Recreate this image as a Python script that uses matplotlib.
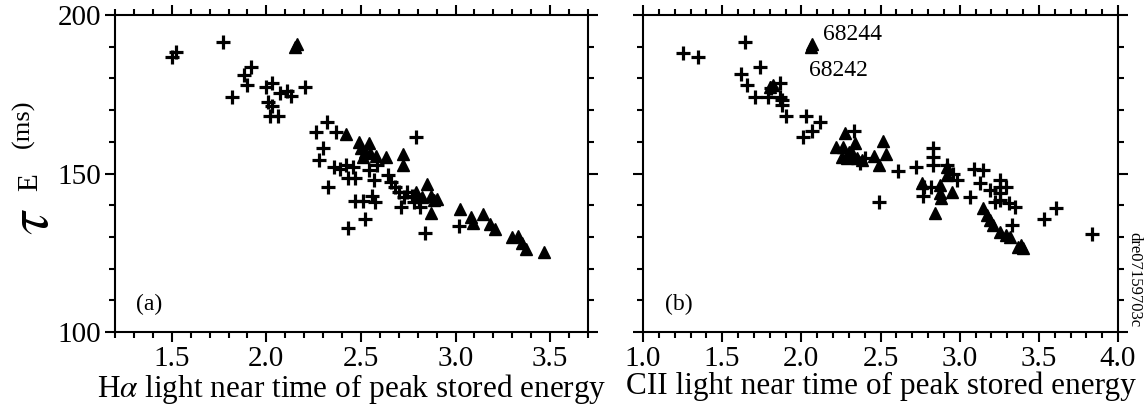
import matplotlib
matplotlib.use('Agg')
import matplotlib.pyplot as plt
from matplotlib.ticker import MultipleLocator

plt.rcParams['font.family'] = ['Liberation Serif', 'DejaVu Serif']
plt.rcParams['mathtext.fontset'] = 'stix'

# (a) H-alpha light: crosses and triangles
ha_plus_x = [1.50, 1.52, 1.77, 1.92, 1.88, 1.90, 1.82, 2.00, 2.03, 2.07, 2.11, 2.13, 2.01,
             2.03, 2.02, 2.06, 2.205, 2.32, 2.26, 2.37, 2.79, 2.30, 2.28, 2.355, 2.39, 2.42,
             2.46, 2.545, 2.585, 2.43, 2.47, 2.57, 2.645, 2.66, 2.68, 2.70, 2.725, 2.745,
             2.77, 2.78, 2.805, 2.71, 2.81, 2.325, 2.47, 2.51, 2.576, 2.56, 2.52, 2.43,
             2.84, 3.02]
ha_plus_y = [186.8, 188.3, 191.6, 183.7, 181.1, 177.9, 174.0, 177.4, 178.5, 175.3, 176.1,
             174.4, 172.7, 171.3, 168.1, 168.1, 177.4, 166.3, 163.2, 163.2, 161.6, 157.9,
             154.3, 152.1, 151.3, 152.7, 152.1, 151.1, 152.7, 148.5, 148.5, 148.0, 149.5,
             147.4, 145.8, 144.3, 142.7, 144.3, 142.9, 141.1, 141.6, 139.5, 139.5, 145.6,
             141.4, 141.4, 141.1, 142.9, 135.5, 132.7, 131.1, 133.4]
ha_tri_x = [2.15, 2.16, 2.42, 2.49, 2.54, 2.50, 2.52, 2.55, 2.51, 2.58, 2.63, 2.72, 2.72,
            2.79, 2.82, 2.85, 2.87, 2.90, 2.87, 3.025, 3.08, 3.09, 3.145, 3.18, 3.21, 3.30,
            3.33, 3.35, 3.37, 3.47, 2.885]
ha_tri_y = [190.0, 191.0, 162.5, 160.0, 159.5, 157.9, 156.9, 156.4, 155.3, 155.5, 155.3,
            156.1, 152.7, 144.3, 142.7, 146.7, 142.9, 141.9, 137.6, 138.7, 136.4, 134.5,
            137.2, 134.1, 132.4, 129.9, 130.3, 128.0, 126.3, 125.3, 141.6]

# (b) CII light
cii_plus_x = [1.25, 1.35, 1.644, 1.74, 1.62, 1.655, 1.71, 1.79, 1.81, 1.865, 1.865, 1.88,
              1.88, 1.90, 2.03, 2.12, 2.066, 2.01, 2.33, 2.37, 2.61, 2.725, 2.83, 2.83,
              2.83, 2.775, 2.82, 2.77, 2.49, 2.92, 2.98, 3.09, 3.13, 3.065, 3.19, 3.255,
              3.255, 3.255, 3.255, 3.29, 3.22, 3.31, 3.35, 3.33, 3.53, 3.61, 3.835, 3.15,
              2.96, 2.40, 2.32]
cii_plus_y = [188.1, 186.6, 191.6, 183.7, 181.4, 177.9, 174.0, 174.2, 176.9, 178.5, 174.2,
              173.2, 171.6, 168.1, 168.1, 166.3, 163.4, 161.4, 163.4, 153.2, 150.9, 152.1,
              157.9, 155.3, 152.7, 145.8, 145.8, 142.9, 141.1, 152.7, 148.0, 151.3, 146.9,
              142.7, 144.8, 147.9, 145.8, 143.8, 141.6, 145.8, 141.1, 140.6, 139.5, 133.8,
              135.5, 139.0, 130.9, 151.1, 150.0, 155.0, 155.5]
cii_tri_x = [2.06, 2.07, 1.80, 1.82, 2.276, 2.22, 2.265, 2.30, 2.255, 2.29, 2.32, 2.34,
             2.35, 2.38, 2.515, 2.535, 2.46, 2.49, 2.92, 2.76, 2.875, 2.885, 2.875, 2.95,
             2.92, 2.845, 3.145, 3.17, 3.19, 3.21, 3.255, 3.29, 3.32, 3.37, 3.39, 3.40]
cii_tri_y = [190.0, 191.0, 177.2, 178.0, 162.7, 158.5, 158.5, 156.9, 155.3, 154.8, 156.4,
             159.5, 154.8, 154.3, 160.3, 156.1, 155.5, 152.7, 152.1, 146.9, 146.4, 142.2,
             143.7, 144.3, 149.5, 137.6, 139.0, 136.9, 135.3, 133.8, 131.6, 130.6, 130.1,
             126.7, 127.4, 126.4]

shot_labels = ['68244', '68242']
shot_pos = [(2.14, 193.7), (2.05, 182.6)]

fig = plt.figure(figsize=(11.46, 4.18), dpi=100)
ax1 = fig.add_axes([115 / 1146, 86 / 418, 473 / 1146, 317 / 418])
ax2 = fig.add_axes([643 / 1146, 86 / 418, 475 / 1146, 317 / 418])


def style(ax, xlim):
    ax.set_xlim(*xlim)
    ax.set_ylim(100, 200)
    ax.xaxis.set_major_locator(MultipleLocator(0.5))
    ax.xaxis.set_minor_locator(MultipleLocator(0.1))
    ax.yaxis.set_major_locator(MultipleLocator(50))
    ax.yaxis.set_minor_locator(MultipleLocator(10))
    ax.tick_params(which='both', direction='out', top=True, right=True, width=1.5,
                   labelsize=21, pad=3)
    ax.tick_params(which='major', length=7)
    ax.tick_params(which='minor', length=4)
    ax.xaxis.set_major_formatter(lambda v, p: '%.1f' % v)
    for s in ax.spines.values():
        s.set_linewidth(1.5)


def scatter(ax, px, py, tx, ty):
    ax.plot(px, py, '+', color='black', ms=10, mew=2.3, clip_on=False)
    ax.plot(tx, ty, '^', color='black', ms=9, mec='black', clip_on=False)


style(ax1, (1.2, 3.7))
scatter(ax1, ha_plus_x, ha_plus_y, ha_tri_x, ha_tri_y)
ax1.set_xlabel(r'H$\alpha$ light near time of peak stored energy', fontsize=22.5, labelpad=0)
ax1.text(1.31, 107, '(a)', fontsize=17)

style(ax2, (1.0, 4.0))
ax2.tick_params(labelleft=False)
scatter(ax2, cii_plus_x, cii_plus_y, cii_tri_x, cii_tri_y)
ax2.set_xlabel('CII light near time of peak stored energy', fontsize=22.5, labelpad=0)
ax2.text(1.14, 107, '(b)', fontsize=17)
for lab, (x, y) in zip(shot_labels, shot_pos):
    ax2.text(x, y, lab, fontsize=17, va='center')

# y label: big tau with subscript E
fig.text(0.030, 0.47, r'$\tau$', fontsize=42, rotation=90, ha='center', va='center')
fig.text(0.026, 0.565, 'E', fontsize=21, rotation=90, ha='center', va='center')
fig.text(0.020, 0.705, '(ms)', fontsize=19, rotation=90, ha='center', va='center')

fig.text(0.990, 0.33, 'dre07159703c', fontsize=12, rotation=-90, ha='center', va='center')

fig.savefig('out.png', dpi=100)
